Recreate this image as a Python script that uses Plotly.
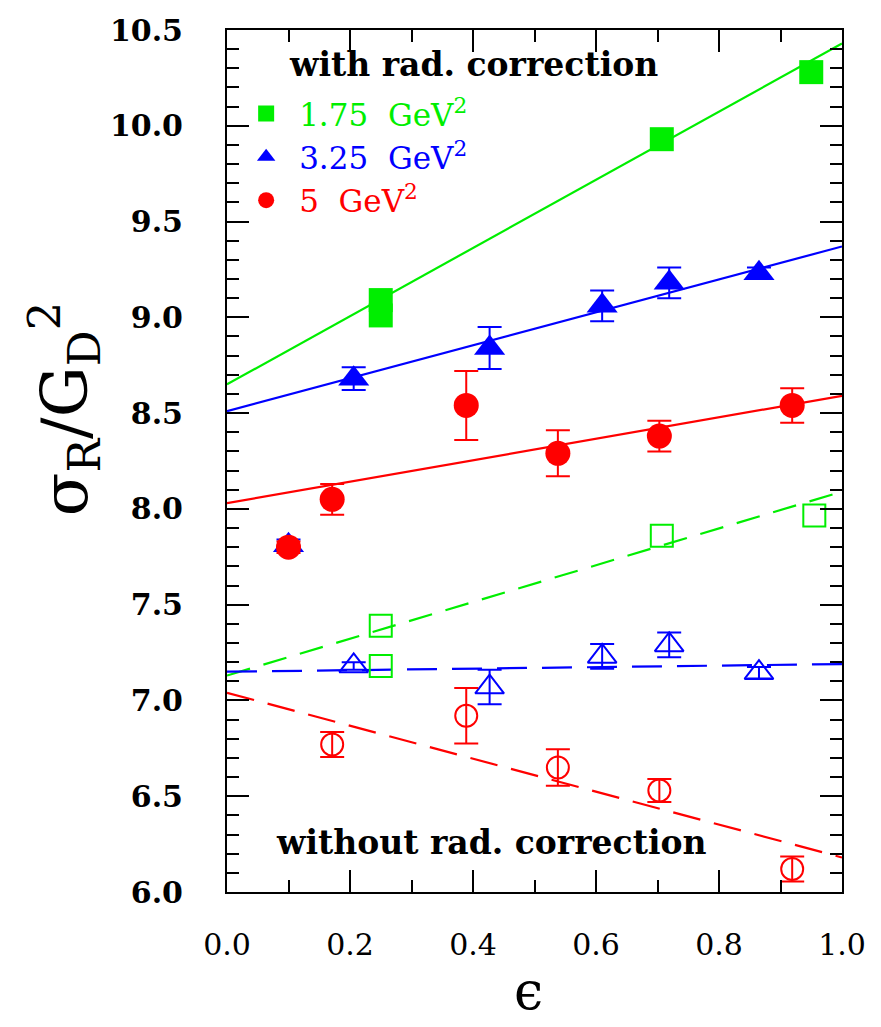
import plotly.graph_objects as go

# ---------------- data ----------------
fit_eps = [0.0, 1.0]

# Q2 = 1.75 GeV^2
eps_175 = [0.25, 0.25, 0.707, 0.95]
sig_175_rad = [9.09, 9.01, 9.93, 10.28]
eps_175_norad = [0.25, 0.25, 0.707, 0.955]
sig_175_norad = [7.39, 7.18, 7.86, 7.965]
fit_175_rad = [8.65, 10.43]
fit_175_norad = [7.13, 8.09]

# Q2 = 3.25 GeV^2
eps_325_rad = [0.10, 0.206, 0.427, 0.61, 0.719, 0.865]
sig_325_rad = [7.81, 8.68, 8.84, 9.06, 9.18, 9.23]
err_325_rad = [0.03, 0.06, 0.11, 0.08, 0.08, 0.03]
eps_325_norad = [0.206, 0.427, 0.61, 0.719, 0.865]
sig_325_norad = [7.18, 7.07, 7.23, 7.29, 7.145]
err_325_norad = [0.02, 0.09, 0.065, 0.065, 0.03]
fit_325_rad = [8.51, 9.37]
fit_325_norad = [7.15, 7.19]

# Q2 = 5 GeV^2
eps_5_rad = [0.10, 0.171, 0.389, 0.538, 0.703, 0.919]
sig_5_rad = [7.80, 8.05, 8.54, 8.29, 8.38, 8.54]
err_5_rad = [0.03, 0.08, 0.18, 0.12, 0.08, 0.09]
eps_5_norad = [0.171, 0.389, 0.538, 0.703, 0.919]
sig_5_norad = [6.77, 6.92, 6.65, 6.53, 6.12]
err_5_norad = [0.065, 0.145, 0.095, 0.06, 0.065]
fit_5_rad = [8.03, 8.59]
fit_5_norad = [7.04, 6.18]

x_ticks = [0.0, 0.2, 0.4, 0.6, 0.8, 1.0]
y_ticks = [6.0, 6.5, 7.0, 7.5, 8.0, 8.5, 9.0, 9.5, 10.0, 10.5]

GREEN = "#00ee00"
BLUE = "#0000ff"
RED = "#ff0000"
SERIF = "DejaVu Serif"

fig = go.Figure()

# fit lines
for xs, ys, col, dash in [
    (fit_eps, fit_175_rad, GREEN, None),
    (fit_eps, fit_325_rad, BLUE, None),
    (fit_eps, fit_5_rad, RED, None),
    (fit_eps, fit_175_norad, GREEN, "24px,14px"),
    (fit_eps, fit_325_norad, BLUE, "30px,15px"),
    (fit_eps, fit_5_norad, RED, "28px,14px"),
]:
    fig.add_trace(go.Scatter(x=xs, y=ys, mode="lines",
                             line=dict(color=col, width=2.2, dash=dash),
                             showlegend=False, hoverinfo="skip"))

def err(arr, col):
    return dict(type="data", array=arr, color=col, thickness=2, width=12, visible=True)

# without rad. correction (open)
fig.add_trace(go.Scatter(x=eps_175_norad, y=sig_175_norad, mode="markers",
                         marker=dict(symbol="square-open", size=22, color=GREEN, line=dict(width=2, color=GREEN)),
                         showlegend=False))
fig.add_trace(go.Scatter(x=eps_325_norad, y=sig_325_norad, mode="markers",
                         error_y=err(err_325_norad, BLUE),
                         marker=dict(symbol="triangle-up-open", size=25, color=BLUE, line=dict(width=2, color=BLUE)),
                         showlegend=False))
fig.add_trace(go.Scatter(x=eps_5_norad, y=sig_5_norad, mode="markers",
                         error_y=err(err_5_norad, RED),
                         marker=dict(symbol="circle-open", size=22, color=RED, line=dict(width=2, color=RED)),
                         showlegend=False))

# with rad. correction (filled)
fig.add_trace(go.Scatter(x=eps_175, y=sig_175_rad, mode="markers",
                         name=f'<span style="color:{GREEN}">1.75  GeV<sup>2</sup></span>',
                         marker=dict(symbol="square", size=24, color=GREEN)))
fig.add_trace(go.Scatter(x=eps_325_rad, y=sig_325_rad, mode="markers",
                         name=f'<span style="color:{BLUE}">3.25  GeV<sup>2</sup></span>',
                         error_y=err(err_325_rad, BLUE),
                         marker=dict(symbol="triangle-up", size=27, color=BLUE)))
fig.add_trace(go.Scatter(x=eps_5_rad, y=sig_5_rad, mode="markers",
                         name=f'<span style="color:{RED}">5  GeV<sup>2</sup></span>',
                         error_y=err(err_5_rad, RED),
                         marker=dict(symbol="circle", size=25, color=RED)))

axis_common = dict(showline=True, linecolor="black", linewidth=2, mirror="allticks",
                   ticks="inside", tickwidth=2, tickcolor="black", ticklen=22,
                   showgrid=False, zeroline=False,
                   minor=dict(ticks="inside", ticklen=12, tickwidth=2, tickcolor="black", dtick=0.1, showgrid=False))

fig.update_xaxes(range=[0, 1], tickvals=x_ticks, ticktext=[f"{v:.1f}" for v in x_ticks],
                 tickfont=dict(family=SERIF, size=30, color="black"),
                 ticklabelstandoff=25, **axis_common)
fig.update_yaxes(range=[6, 10.5], tickvals=y_ticks, ticktext=[f"{v:.1f}" for v in y_ticks],
                 tickfont=dict(family=SERIF, size=30, color="black", weight="bold"),
                 ticklabelstandoff=36, **axis_common)

fig.add_annotation(text="<b>with rad. correction</b>", xref="x", yref="y", x=0.098, y=10.32,
                   xanchor="left", yanchor="middle", showarrow=False,
                   font=dict(family=SERIF, size=33, color="black"))
fig.add_annotation(text="<b>without rad. correction</b>", xref="x", yref="y", x=0.077, y=6.26,
                   xanchor="left", yanchor="middle", showarrow=False,
                   font=dict(family=SERIF, size=33, color="black"))

fig.add_annotation(text="σ<sub>R</sub>/G<sub>D</sub><sup>2</sup>", xref="paper", yref="paper",
                   x=-0.265, y=0.56, xanchor="center", yanchor="middle", textangle=-90,
                   showarrow=False, font=dict(family=SERIF, size=64, color="black"))
fig.add_annotation(text="ϵ", xref="paper", yref="paper", x=0.49, y=-0.152,
                   xanchor="center", yanchor="bottom", showarrow=False,
                   font=dict(family=SERIF, size=52, color="black"))

fig.update_layout(
    width=881, height=1027,
    margin=dict(l=227, r=39, t=21, b=135),
    plot_bgcolor="white", paper_bgcolor="white",
    showlegend=True,
    legend=dict(x=0.01, y=0.934, xanchor="left", yanchor="top",
                font=dict(family=SERIF, size=31, color="black"),
                bgcolor="rgba(0,0,0,0)", itemwidth=56, tracegroupgap=0),
)

fig.write_html("out.html")
